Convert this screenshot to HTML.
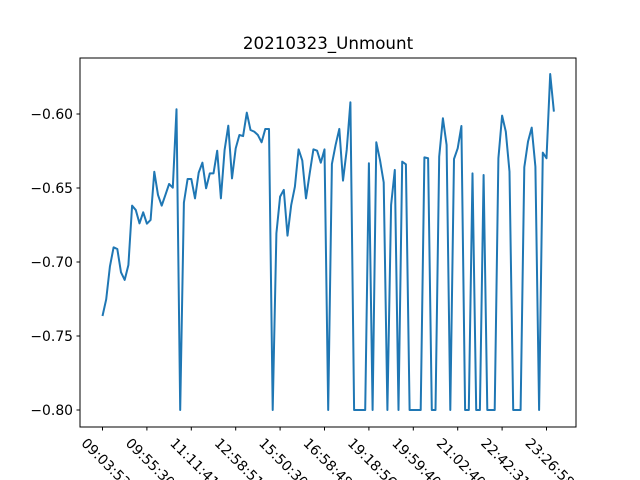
<!DOCTYPE html>
<html><head><meta charset="utf-8"><style>
html,body{margin:0;padding:0;background:#fff}
svg{display:block;font-family:"DejaVu Sans","Liberation Sans",sans-serif}
</style></head><body>
<svg id="chart" width="640" height="480" viewBox="0 0 640 480">
<rect x="0" y="0" width="640" height="480" fill="#fff"/>
<text x="328" y="49" text-anchor="middle" font-size="16.7" fill="#000">20210323_Unmount</text>
<g id="yaxis"></g>
<g id="xaxis"></g>
<path id="series" fill="none" stroke="#1f77b4" stroke-width="2" stroke-linejoin="round"/>
<rect x="80" y="58" width="496" height="369" fill="none" stroke="#000" stroke-width="1"/>
</svg>
<script>
const values = [-0.7365,-0.7252,-0.7031,-0.6901,-0.6912,-0.7070,-0.7121,-0.7020,-0.6619,-0.6649,-0.6739,-0.6664,-0.6741,-0.6716,-0.6390,-0.6547,-0.6619,-0.6547,-0.6473,-0.6498,-0.5968,-0.80,-0.6599,-0.6439,-0.6439,-0.6570,-0.6396,-0.6329,-0.6502,-0.6401,-0.6401,-0.6248,-0.6570,-0.6243,-0.6079,-0.6435,-0.6232,-0.6142,-0.6149,-0.5991,-0.6108,-0.6119,-0.6142,-0.6191,-0.6101,-0.6101,-0.80,-0.6806,-0.6558,-0.6513,-0.6822,-0.6615,-0.6491,-0.6239,-0.6315,-0.6570,-0.6401,-0.6239,-0.6248,-0.6329,-0.6239,-0.80,-0.6338,-0.6209,-0.6101,-0.6450,-0.6243,-0.5921,-0.80,-0.80,-0.80,-0.80,-0.6333,-0.80,-0.6191,-0.6311,-0.6462,-0.80,-0.6615,-0.6378,-0.80,-0.6322,-0.6340,-0.80,-0.80,-0.80,-0.80,-0.6293,-0.6299,-0.80,-0.80,-0.6288,-0.6029,-0.6209,-0.80,-0.6304,-0.6232,-0.6081,-0.80,-0.80,-0.6401,-0.80,-0.80,-0.6412,-0.80,-0.80,-0.80,-0.6299,-0.6011,-0.6119,-0.6390,-0.80,-0.80,-0.80,-0.6360,-0.6187,-0.6092,-0.6356,-0.80,-0.6261,-0.6299,-0.5730,-0.5984];
const xTickIndex = [0,12,24,36,48,60,72,84,96,108,120];
const xTickLabels = ["09:03:53","09:55:30","11:11:41","12:58:51","15:50:30","16:58:48","19:18:56","19:59:40","21:02:40","22:42:31","23:26:58"];
const yTicks = [-0.60,-0.65,-0.70,-0.75,-0.80];
const yTickLabels = ["\u22120.60","\u22120.65","\u22120.70","\u22120.75","\u22120.80"];

const NS="http://www.w3.org/2000/svg";
function xs(i){return 102.5 + i*(444/120);}
function ys(v){return 114 + (-0.60 - v)*1480;}

let d="";
values.forEach((v,i)=>{d+=(i?"L":"M")+xs(i).toFixed(2)+" "+ys(v).toFixed(2);});
document.getElementById("series").setAttribute("d",d);

const ya=document.getElementById("yaxis");
yTicks.forEach((t,k)=>{
  const y=ys(t);
  const ln=document.createElementNS(NS,"line");
  ln.setAttribute("x1",76.5);ln.setAttribute("x2",80);ln.setAttribute("y1",y);ln.setAttribute("y2",y);
  ln.setAttribute("stroke","#000");
  
  
  ya.appendChild(ln);
  const tx=document.createElementNS(NS,"text");
  tx.setAttribute("x",73);tx.setAttribute("y",y+5);tx.setAttribute("text-anchor","end");
  tx.setAttribute("font-size","13.9");
  tx.textContent=yTickLabels[k];
  
  
  ya.appendChild(tx);
});

const xa=document.getElementById("xaxis");
xTickIndex.forEach((idx,k)=>{
  const x=xs(idx);
  const ln=document.createElementNS(NS,"line");
  ln.setAttribute("x1",x);ln.setAttribute("x2",x);ln.setAttribute("y1",427);ln.setAttribute("y2",430.5);
  ln.setAttribute("stroke","#000");
  
  
  xa.appendChild(ln);
  const tx=document.createElementNS(NS,"text");
  tx.setAttribute("x",0);tx.setAttribute("y",0);
  tx.setAttribute("font-size","13.9");
  tx.setAttribute("transform","translate("+(x-22)+",444) rotate(45)");
  tx.textContent=xTickLabels[k];
  
  
  xa.appendChild(tx);
});
</script>
</body></html>
